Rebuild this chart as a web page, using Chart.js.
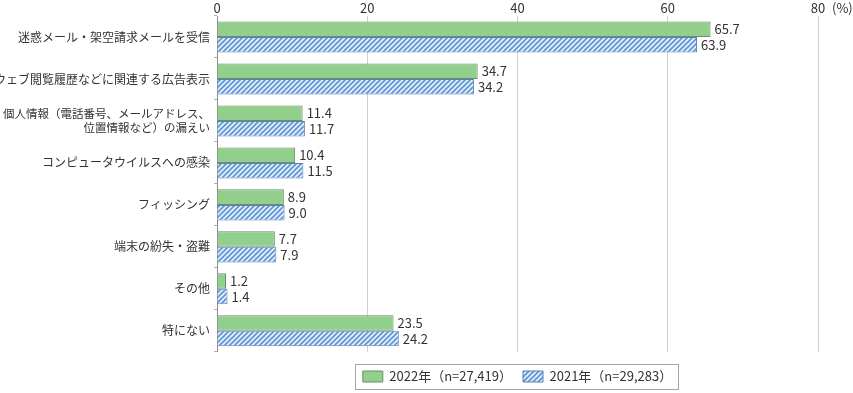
<!DOCTYPE html>
<html>
<head>
<meta charset="utf-8">
<script src="https://cdn.jsdelivr.net/npm/chart.js@4.4.0/dist/chart.umd.min.js"></script>
<style>
  html, body { margin: 0; padding: 0; background: #fff; }
  #wrap { width: 853px; height: 393px; }
</style>
</head>
<body>
<div id="wrap"><canvas id="riskChart"></canvas></div>
<script>
// categories and values
const categories = [
    "迷惑メール・架空請求メールを受信",
    "ウェブ閲覧履歴などに関連する広告表示",
    ["個人情報（電話番号、メールアドレス、", "位置情報など）の漏えい"],
    "コンピュータウイルスへの感染",
    "フィッシング",
    "端末の紛失・盗難",
    "その他",
    "特にない",
];
const values2022 = [65.7, 34.7, 11.4, 10.4, 8.9, 7.7, 1.2, 23.5];
const values2021 = [63.9, 34.2, 11.7, 11.5, 9.0, 7.9, 1.4, 24.2];
const seriesNames = ["2022年（n=27,419）", "2021年（n=29,283）"];
const xTicks = [0, 20, 40, 60, 80];

const FONT = "'Noto Sans CJK JP', 'Noto Sans', sans-serif";

// diagonal hatch for 2021
function makeHatch() {
    const c = document.createElement("canvas");
    c.width = 5;
    c.height = 5;
    const g = c.getContext("2d");
    g.fillStyle = "#e4edf9";
    g.fillRect(0, 0, 5, 5);
    g.strokeStyle = "#5b95d6";
    g.lineWidth = 1.6;
    g.beginPath();
    g.moveTo(-1, 6); g.lineTo(6, -1);
    g.moveTo(-1, 1); g.lineTo(1, -1);
    g.moveTo(4, 6); g.lineTo(6, 4);
    g.stroke();
    return g.createPattern(c, "repeat");
}

const valueLabels = {
    id: "valueLabels",
    afterDatasetsDraw(chart) {
        const ctx = chart.ctx;
        ctx.save();
        ctx.font = "13px " + FONT;
        ctx.fillStyle = "#333";
        ctx.textAlign = "left";
        ctx.textBaseline = "middle";
        chart.data.datasets.forEach((ds, i) => {
            chart.getDatasetMeta(i).data.forEach((bar, j) => {
                ctx.fillText(ds.data[j].toFixed(1), bar.x + 4, bar.y);
            });
        });
        ctx.restore();
    },
};

const extras = {
    id: "extras",
    afterDraw(chart) {
        const ctx = chart.ctx;
        const xs = chart.scales.x;
        ctx.save();
        ctx.font = "13px " + FONT;
        ctx.fillStyle = "#333";
        ctx.textBaseline = "middle";
        ctx.textAlign = "left";
        ctx.fillText("(%)", xs.right + 14, 8);
        // legend frame
        const boxes = chart.legend.legendHitBoxes;
        if (boxes && boxes.length) {
            let l = Infinity, r = -Infinity, t = Infinity, b = -Infinity;
            boxes.forEach(h => {
                l = Math.min(l, h.left);
                r = Math.max(r, h.left + h.width);
                t = Math.min(t, h.top);
                b = Math.max(b, h.top + h.height);
            });
            ctx.strokeStyle = "#a6a6a6";
            ctx.lineWidth = 1;
            ctx.strokeRect(Math.round(l - 8) + 0.5, Math.round(t - 6) + 0.5,
                Math.round(r - l + 14), Math.round(b - t + 12));
        }
        ctx.restore();
    },
};

const ctx = document.getElementById("riskChart").getContext("2d");
const riskChart = new Chart(ctx, {
    type: "bar",
    data: {
        labels: categories,
        datasets: [
            {
                label: seriesNames[0],
                data: values2022,
                backgroundColor: "#93cf8c",
                borderColor: "#6b8f66",
                borderWidth: 1,
            },
            {
                label: seriesNames[1],
                data: values2021,
                backgroundColor: makeHatch(),
                borderColor: "#5d7fb3",
                borderWidth: 1,
            },
        ],
    },
    options: {
        indexAxis: "y",
        responsive: true,
        maintainAspectRatio: false,
        animation: false,
        datasets: {
            bar: {
                categoryPercentage: 0.74,
                barPercentage: 1.0,
            },
        },
        layout: {
            padding: { top: 0, right: 35, bottom: 0, left: 0 },
        },
        scales: {
            x: {
                position: "top",
                min: 0,
                max: 80,
                afterBuildTicks(scale) {
                    scale.ticks = xTicks.map(v => ({ value: v }));
                },
                afterFit(scale) {
                    scale.height = 16;
                },
                grid: {
                    color: "#cfcfcf",
                    drawTicks: false,
                },
                border: { display: false },
                ticks: {
                    padding: 0,
                    color: "#333",
                    font: { family: FONT, size: 13 },
                },
            },
            y: {
                afterFit(scale) {
                    scale.width = 217;
                },
                grid: {
                    offset: true,
                    drawOnChartArea: false,
                    tickLength: 3,
                    color: "#b0b0b0",
                },
                border: { display: true, color: "#8c8c8c" },
                ticks: {
                    padding: 4,
                    color: "#333",
                    font: (c) => ({ family: FONT, size: c.index === 2 ? 11.5 : 12 }),
                },
            },
        },
        plugins: {
            legend: {
                position: "bottom",
                fullSize: false,
                title: {
                    display: true,
                    text: " ",
                    font: { size: 1 },
                    padding: { top: 6, bottom: 0 },
                },
                labels: {
                    boxWidth: 20,
                    boxHeight: 11,
                    padding: 11,
                    color: "#333",
                    font: { family: FONT, size: 13 },
                },
            },
            tooltip: { enabled: false },
        },
    },
    plugins: [valueLabels, extras],
});
</script>
</body>
</html>
